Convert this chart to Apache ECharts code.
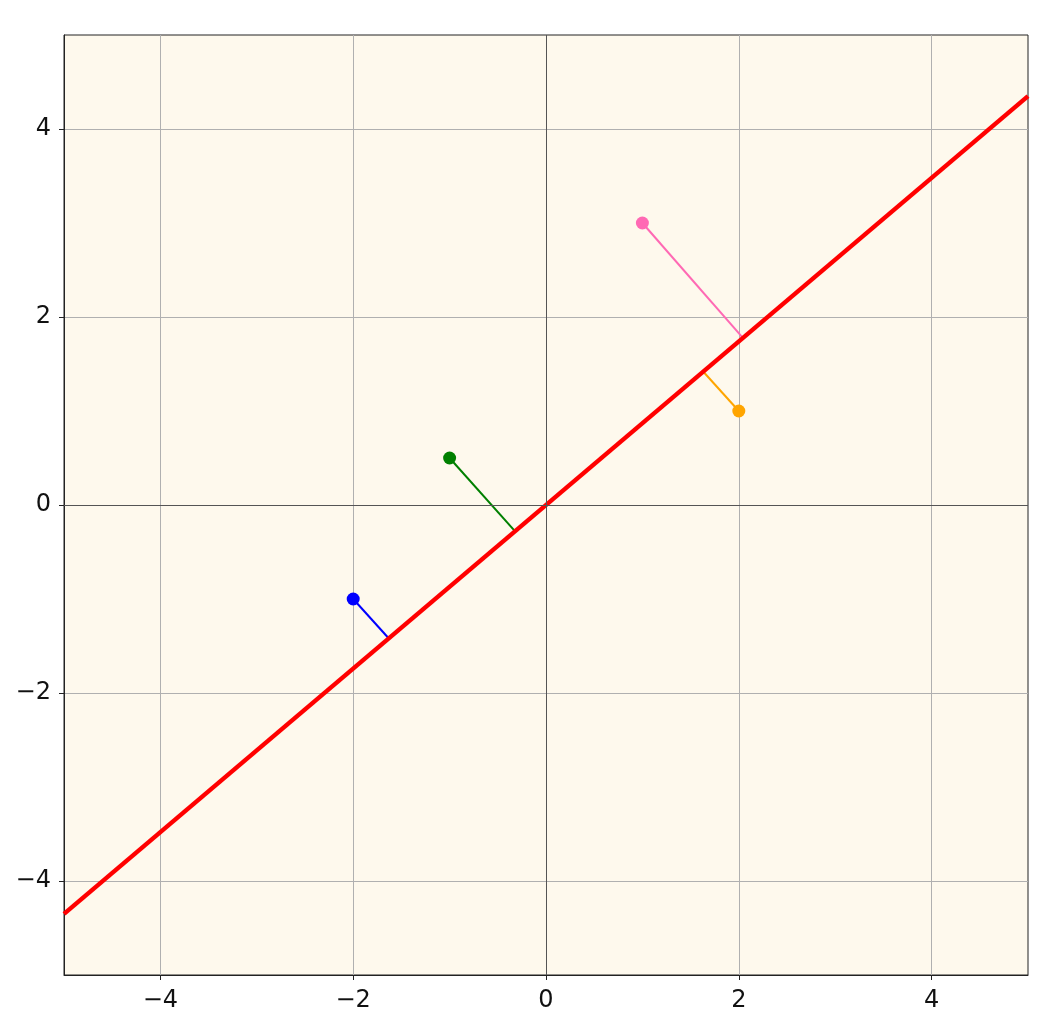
<!DOCTYPE html>
<html><head><meta charset="utf-8">
<script src="https://cdn.jsdelivr.net/npm/echarts@6/dist/echarts.min.js"></script>
<style>html,body{margin:0;padding:0;background:#fff}#c{width:1064px;height:1034px}</style>
</head><body><div id="c"></div>
<script>
const tickValues = [-4, -2, 0, 2, 4];
const pointNames = ['blue', 'green', 'pink', 'orange'];
const pointColors = ['#0000ff', '#008000', '#ff69b4', '#ffa500'];
const pointX = [-2, -1, 1, 2];
const pointY = [-1, 0.5, 3, 1];
const projX = [-1.63, -0.32, 2.04, 1.63];
const projY = [-1.42, -0.28, 1.78, 1.42];
const fitLineX = [-5, 5];
const fitLineY = [-4.35, 4.35];

const fmt = v => v < 0 ? '\u2212' + Math.abs(v) : String(v);
const font = 'DejaVu Sans';

const series = [];
series.push({
  type: 'line', data: [], silent: true,
  markLine: {
    symbol: 'none', silent: true, label: {show: false},
    lineStyle: {color: '#555', width: 1, type: 'solid'},
    data: [{xAxis: 0}, {yAxis: 0}]
  }
});
pointNames.forEach((n, i) => {
  series.push({
    name: n + '-proj', type: 'line', silent: true, symbol: 'none', z: 3,
    lineStyle: {color: pointColors[i], width: 2},
    data: [[pointX[i], pointY[i]], [projX[i], projY[i]]]
  });
});
series.push({
  name: 'fit', type: 'line', silent: true, symbol: 'none', z: 4,
  lineStyle: {color: '#ff0000', width: 4.5},
  data: fitLineX.map((x, i) => [x, fitLineY[i]])
});
series.push({
  name: 'points', type: 'scatter', symbolSize: 13, z: 5,
  data: pointX.map((x, i) => ({value: [x, pointY[i]], itemStyle: {color: pointColors[i], opacity: 1}}))
});

const axisCommon = {
  type: 'value', min: -5, max: 5,
  axisLine: {show: true, onZero: false, lineStyle: {color: '#222', width: 1}},
  axisTick: {show: true, inside: false, length: 5, customValues: tickValues, lineStyle: {color: '#222'}},
  axisLabel: {customValues: tickValues, formatter: fmt, color: '#111', fontFamily: font, fontSize: 24},
  splitLine: {show: true, lineStyle: {color: '#b0b0b0', width: 1}}
};

const chart = echarts.init(document.getElementById('c'), null, {renderer: 'canvas'});
chart.setOption({
  animation: false,
  backgroundColor: '#ffffff',
  grid: {left: 64, right: 36, top: 35, bottom: 59, show: true, backgroundColor: '#fef9ed', borderColor: '#222', borderWidth: 1},
  xAxis: Object.assign({}, axisCommon, {position: 'bottom', axisLabel: Object.assign({}, axisCommon.axisLabel, {margin: 14})}),
  yAxis: Object.assign({}, axisCommon, {position: 'left', axisLabel: Object.assign({}, axisCommon.axisLabel, {margin: 13})}),
  series: series
});
</script></body></html>
